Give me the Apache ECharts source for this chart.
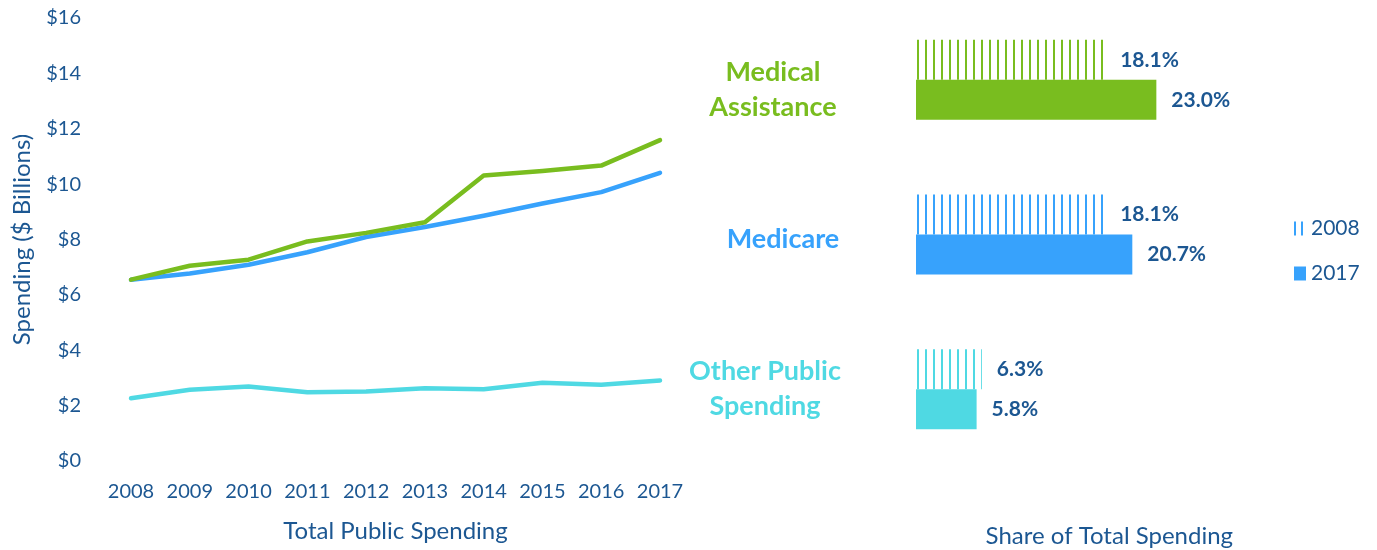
<!DOCTYPE html>
<html>
<head>
<meta charset="utf-8">
<script src="https://cdn.jsdelivr.net/npm/echarts@6/dist/echarts.min.js"></script>
<style>
  html, body { margin: 0; padding: 0; background: #fff; }
  #chart { width: 1377px; height: 550px; }
</style>
</head>
<body>
<div id="chart"></div>
<script>
// Public spending by program, $ billions
const years = ['2008', '2009', '2010', '2011', '2012', '2013', '2014', '2015', '2016', '2017'];
const medicalAssistance = [6.55, 7.05, 7.27, 7.93, 8.24, 8.62, 10.31, 10.47, 10.67, 11.59];
const medicare = [6.55, 6.77, 7.09, 7.54, 8.09, 8.45, 8.86, 9.30, 9.71, 10.41];
const otherPublic = [2.27, 2.57, 2.69, 2.48, 2.51, 2.63, 2.59, 2.83, 2.75, 2.91];

// Share of total spending, percent
const programs = ['Medical Assistance', 'Medicare', 'Other Public Spending'];
const programTitleLines = [['Medical', 'Assistance'], ['Medicare'], ['Other Public', 'Spending']];
const share2008 = [18.1, 18.1, 6.3];
const share2017 = [23.0, 20.7, 5.8];

const GREEN = '#79bd1f';
const BLUE = '#37a2fc';
const CYAN = '#4fd9e3';
const programColors = [GREEN, BLUE, CYAN];
const TEXT = '#1c5792';
const FONT = 'Lato, "Open Sans", sans-serif';

// vertical stripe fill for the 2008 bars
function stripes(color, period, offset, width) {
  const c = document.createElement('canvas');
  c.width = period; c.height = 4;
  const ctx = c.getContext('2d');
  ctx.fillStyle = color;
  ctx.fillRect(offset, 0, width, 4);
  return { image: c, repeat: 'repeat' };
}
const barStripes = (color) => stripes(color, 8, 5, 2);

const chart = echarts.init(document.getElementById('chart'), null, { renderer: 'canvas' });

const lineStyle = (color) => ({ width: 4.5, color: color, cap: 'round', join: 'round' });
const valueLabel = {
  show: true, position: 'right', distance: 15,
  color: TEXT, fontSize: 21, fontWeight: 'bold', fontFamily: FONT,
  formatter: (p) => p.value.toFixed(1) + '%'
};
const title = (color, extra) => Object.assign({
  color: color, fontSize: 27, fontWeight: 'bold', lineHeight: 35, fontFamily: FONT
}, extra || {});

// program titles: a spacer line drops a title below its band centre
const titleKeys = ['ma', 'mc', 'op'];
const titleSpacer = ['s20', 's9', null];

chart.setOption({
  animation: false,
  textStyle: { fontFamily: FONT },
  legend: {
    orient: 'vertical',
    left: 1294,
    top: 218,
    padding: 0,
    icon: 'rect',
    itemWidth: 12,
    itemHeight: 14,
    itemGap: 24,
    data: [
      { name: '2008', itemStyle: { color: stripes(BLUE, 7, 0, 2) } },
      { name: '2017' }
    ],
    textStyle: { color: TEXT, fontSize: 21, fontFamily: FONT }
  },
  grid: [
    { left: 131, right: 717, top: 18, bottom: 89, outerBoundsMode: 'none', containLabel: false },
    { left: 916, right: 74.35, top: 2.5, bottom: 83.5, outerBoundsMode: 'none', containLabel: false }
  ],
  xAxis: [
    {
      type: 'category',
      gridIndex: 0,
      data: years,
      boundaryGap: false,
      axisLine: { show: false },
      axisTick: { show: false },
      axisLabel: { color: TEXT, fontSize: 20, margin: 21, fontFamily: FONT, interval: 0, hideOverlap: false },
      name: 'Total Public Spending',
      nameLocation: 'middle',
      nameGap: 58,
      nameTextStyle: { color: TEXT, fontSize: 24, fontFamily: FONT }
    },
    {
      type: 'value',
      gridIndex: 1,
      min: 0,
      max: 37,
      axisLine: { show: false },
      axisTick: { show: false },
      axisLabel: { show: false },
      splitLine: { show: false },
      name: 'Share of Total Spending',
      nameLocation: 'middle',
      nameGap: 58,
      nameTextStyle: { color: TEXT, fontSize: 24, fontFamily: FONT }
    }
  ],
  yAxis: [
    {
      type: 'value',
      gridIndex: 0,
      min: 0,
      max: 16,
      interval: 2,
      axisLine: { show: false },
      axisTick: { show: false },
      splitLine: { show: false },
      axisLabel: {
        color: TEXT, fontSize: 20, margin: 50, fontFamily: FONT,
        formatter: (v) => '$' + v
      },
      name: 'Spending ($ Billions)',
      nameLocation: 'middle',
      nameGap: 97,
      nameTextStyle: { color: TEXT, fontSize: 24, fontFamily: FONT }
    },
    {
      type: 'category',
      gridIndex: 1,
      inverse: true,
      data: programs,
      axisLine: { show: false },
      axisTick: { show: false },
      axisLabel: {
        margin: 143,
        align: 'center',
        formatter: (v, i) => {
          const lines = programTitleLines[i].map((w) => '{' + titleKeys[i] + '|' + w + '}');
          if (titleSpacer[i]) lines.unshift('{' + titleSpacer[i] + '| }');
          return lines.join('\n');
        },
        rich: {
          ma: title(GREEN),
          mc: title(BLUE, { padding: [0, 0, 0, 20] }),
          op: title(CYAN, { padding: [0, 16, 0, 0] }),
          s20: { fontSize: 4, lineHeight: 20 },
          s9: { fontSize: 4, lineHeight: 9 }
        }
      }
    }
  ],
  series: [
    {
      name: 'Medical Assistance', type: 'line', xAxisIndex: 0, yAxisIndex: 0,
      data: medicalAssistance, showSymbol: false, symbol: 'none',
      lineStyle: lineStyle(GREEN), z: 3
    },
    {
      name: 'Medicare', type: 'line', xAxisIndex: 0, yAxisIndex: 0,
      data: medicare, showSymbol: false, symbol: 'none',
      lineStyle: lineStyle(BLUE), z: 2
    },
    {
      name: 'Other Public Spending', type: 'line', xAxisIndex: 0, yAxisIndex: 0,
      data: otherPublic, showSymbol: false, symbol: 'none',
      lineStyle: lineStyle(CYAN), z: 2
    },
    {
      name: '2008', type: 'bar', xAxisIndex: 1, yAxisIndex: 1,
      barWidth: 40, barGap: '0%',
      itemStyle: { color: barStripes(BLUE) },
      data: share2008.map((v, i) => ({ value: v, itemStyle: { color: barStripes(programColors[i]) } })),
      label: valueLabel
    },
    {
      name: '2017', type: 'bar', xAxisIndex: 1, yAxisIndex: 1,
      barWidth: 40, barGap: '0%',
      itemStyle: { color: BLUE },
      data: share2017.map((v, i) => ({ value: v, itemStyle: { color: programColors[i] } })),
      label: valueLabel
    }
  ]
});
</script>
</body>
</html>
